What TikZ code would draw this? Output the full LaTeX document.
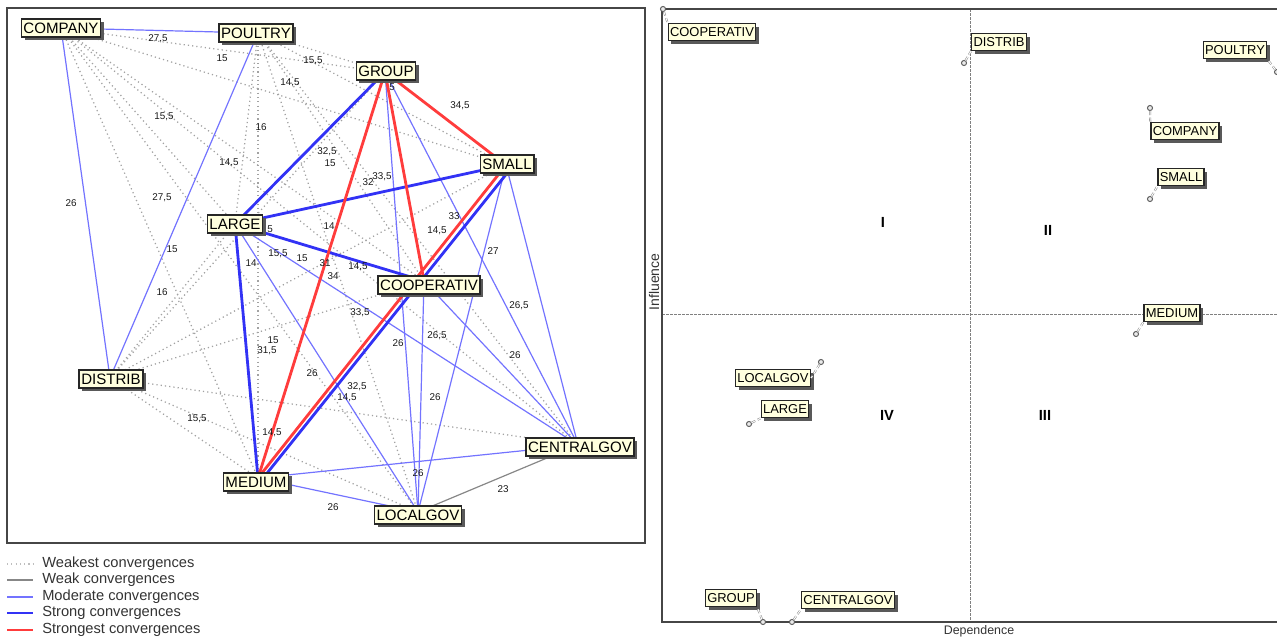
\documentclass[tikz,border=0pt]{standalone}
\usepackage{fontspec}
\setmainfont{Liberation Sans}
\usetikzlibrary{shadows,calc}
\definecolor{thinblue}{RGB}{115,115,255}
\definecolor{thickblue}{RGB}{50,50,245}
\definecolor{strred}{RGB}{255,60,60}
\definecolor{weakgray}{RGB}{135,135,135}
\definecolor{dotgray}{RGB}{162,162,162}
\definecolor{lblfill}{RGB}{255,255,222}
\definecolor{framegray}{RGB}{70,70,70}
\begin{document}
\begin{tikzpicture}[x=0.75pt,y=-0.75pt,
  actor/.style={draw=black!85,line width=1pt,fill=lblfill,
    font=\fontsize{11.3}{12}\selectfont,inner xsep=1.6pt,inner ysep=0pt,
    text height=8.2pt,text depth=0pt,minimum height=13.5pt,
    drop shadow={shadow xshift=2.4pt,shadow yshift=-2.4pt,fill=black!65,opacity=1}},
  actorR/.style={actor,font=\fontsize{9.7}{11}\selectfont,text height=7pt,minimum height=13pt,inner xsep=1.4pt},
  dotE/.style={dotgray,line width=0.95pt,dash pattern=on 0.9pt off 2.3pt},
  weakE/.style={weakgray,line width=0.9pt},
  modE/.style={thinblue,line width=0.9pt},
  strongE/.style={thickblue,line width=2.1pt},
  strongestE/.style={strred,line width=2.1pt},
  val/.style={font=\fontsize{7.4}{8}\selectfont,inner sep=0.5pt,text=black!90},
  legtext/.style={font=\fontsize{11}{12}\selectfont,text=black!80,anchor=west,inner sep=0pt},
  pt/.style={circle,draw=black!65,fill=black!8,line width=0.7pt,inner sep=0pt,minimum size=3.8pt},
  leader/.style={draw=black!45,line width=0.4pt,double=white,double distance=0.7pt,densely dashed},
  quad/.style={font=\fontsize{11}{12}\selectfont\bfseries},
  axisE/.style={draw=framegray,line width=1.1pt},
  midE/.style={draw=black!50,line width=0.6pt,dash pattern=on 2pt off 1pt}
]
\useasboundingbox (0,0) rectangle (1277,640);
% ---------------- left panel ----------------
\draw[framegray,line width=1.1pt] (7,8) rectangle (645,543);
\coordinate (cCOMPANY) at (61,28);
\coordinate (cPOULTRY) at (258,33);
\coordinate (cGROUP) at (385,72);
\coordinate (cSMALL) at (506,165);
\coordinate (cLARGE) at (235,224);
\coordinate (cCOOP) at (424,281);
\coordinate (cDISTRIB) at (110,378);
\coordinate (cMEDIUM) at (258,478);
\coordinate (cLOCALGOV) at (418,512);
\coordinate (cCENTRALGOV) at (578,445);
% weakest
\foreach \a in {cCOMPANY,cPOULTRY,cDISTRIB}
  \foreach \b in {cGROUP,cSMALL,cLARGE,cCOOP,cMEDIUM,cLOCALGOV,cCENTRALGOV}
    \draw[dotE] (\a) -- (\b);
% weak
\draw[weakE] (cCENTRALGOV) -- (cLOCALGOV);
% moderate
\draw[modE] (cCOMPANY) -- (cPOULTRY);
\draw[modE] (cCOMPANY) -- (cDISTRIB);
\draw[modE] (cPOULTRY) -- (cDISTRIB);
\draw[modE] (cGROUP) -- (cLOCALGOV);
\draw[modE] (cGROUP) -- (cCENTRALGOV);
\draw[modE] (cSMALL) -- (cLOCALGOV);
\draw[modE] (cSMALL) -- (cCENTRALGOV);
\draw[modE] (cLARGE) -- (cLOCALGOV);
\draw[modE] (cLARGE) -- (cCENTRALGOV);
\draw[modE] (cCOOP) -- (cLOCALGOV);
\draw[modE] (cCOOP) -- (cCENTRALGOV);
\draw[modE] (cMEDIUM) -- (cCENTRALGOV);
\draw[modE] (cMEDIUM) -- (cLOCALGOV);
% strong
\draw[strongE] (cGROUP) -- (cLARGE);
\draw[strongE] (cLARGE) -- (cSMALL);
\draw[strongE] (cLARGE) -- (cCOOP);
\draw[strongE] (cLARGE) -- (cMEDIUM);
\draw[strongE] ($(cSMALL)+(6,2)$) -- ($(cMEDIUM)+(6,-1)$);
% strongest
\draw[strongestE] (cGROUP) -- (cSMALL);
\draw[strongestE] (cGROUP) -- (cMEDIUM);
\draw[strongestE] (cGROUP) -- (cCOOP);
\draw[strongestE] (cSMALL) -- (cMEDIUM);
% values
\foreach \x/\y/\t [count=\i] in {
  158/39/{27,5}, 222/58/{15}, 313/61/{15,5}, 290/83/{14,5}, 164/117/{15,5},
  261/127/{16}, 229/163/{14,5}, 162/198/{27,5}, 71/203/{26}, 327/152/{32,5},
  330/163/{15}, 368/182/{32}, 382/177/{33,5}, 392/87/{5}, 460/106/{34,5},
  270/229/{5}, 329/226/{14}, 454/216/{33}, 437/231/{14,5}, 172/249/{15},
  162/292/{16}, 251/263/{14}, 278/254/{15,5}, 302/258/{15}, 325/263/{31},
  333/276/{34}, 358/267/{14,5}, 493/251/{27}, 519/306/{26,5}, 360/313/{33,5},
  437/336/{26,5}, 398/343/{26}, 273/340/{15}, 267/351/{31,5}, 515/355/{26},
  312/373/{26}, 357/387/{32,5}, 347/398/{14,5}, 435/397/{26}, 197/419/{15,5},
  272/433/{14,5}, 418/473/{26}, 503/489/{23}, 333/507/{26}}
  \node[val] (v\i) at (\x,\y) {\t};
% actors
\node[actor] (COMPANY) at (61,28) {COMPANY};
\node[actor] (POULTRY) at (256,33) {POULTRY};
\node[actor] (GROUP) at (386,71) {GROUP};
\node[actor] (SMALL) at (507,164) {SMALL};
\node[actor] (LARGE) at (235,224) {LARGE};
\node[actor] (COOPERATIV) at (429,285) {COOPERATIV};
\node[actor] (DISTRIB) at (111,379) {DISTRIB};
\node[actor] (CENTRALGOV) at (580,447) {CENTRALGOV};
\node[actor] (MEDIUM) at (256,482) {MEDIUM};
\node[actor] (LOCALGOV) at (418,515) {LOCALGOV};
% legend
\coordinate (g1a) at (7,564); \coordinate (g1b) at (33,564);
\coordinate (g2a) at (7,580); \coordinate (g2b) at (33,580);
\coordinate (g3a) at (7,597); \coordinate (g3b) at (33,597);
\coordinate (g4a) at (7,613); \coordinate (g4b) at (33,613);
\coordinate (g5a) at (7,630); \coordinate (g5b) at (33,630);
\draw[dotE,dotgray!70] (g1a) -- (g1b);
\draw[weakE] (g2a) -- (g2b);
\draw[modE] (g3a) -- (g3b);
\draw[strongE] (g4a) -- (g4b);
\draw[strongestE] (g5a) -- (g5b);
\node[legtext] (t1) at (42,564) {Weakest convergences};
\node[legtext] (t2) at (42,580) {Weak convergences};
\node[legtext] (t3) at (42,597) {Moderate convergences};
\node[legtext] (t4) at (42,613) {Strong convergences};
\node[legtext] (t5) at (42,630) {Strongest convergences};
% ---------------- right panel ----------------
\draw[midE] (970,9) -- (970,622);
\draw[midE] (662,314) -- (1277,314);
\draw[axisE] (662,9) -- (1277,9);
\draw[axisE] (662,9) -- (662,622) -- (1277,622);
\node[font=\fontsize{10.5}{11}\selectfont,text=black!80,rotate=90] (infl) at (654,282) {Influence};
\node[font=\fontsize{9.3}{10}\selectfont,text=black!80] (dep) at (979,631) {Dependence};
\node[quad] (q1) at (883,222) {I};
\node[quad] (q2) at (1048,230) {II};
\node[quad] (q3) at (1045,415) {III};
\node[quad] (q4) at (887,415) {IV};
% points
\node[pt] (pCOOP) at (663,9) {};
\node[pt] (pDISTRIB) at (964,63) {};
\node[pt] (pPOULTRY) at (1277,72) {};
\node[pt] (pCOMPANY) at (1150,108) {};
\node[pt] (pSMALL) at (1150,199) {};
\node[pt] (pMEDIUM) at (1136,334) {};
\node[pt] (pLOCALGOV) at (821,362) {};
\node[pt] (pLARGE) at (749,424) {};
\node[pt] (pGROUP) at (763,622) {};
\node[pt] (pCENTRALGOV) at (792,622) {};
% labels
\node[actorR] (rCOOP) at (712,32) {COOPERATIV};
\node[actorR] (rDISTRIB) at (999,42) {DISTRIB};
\node[actorR] (rPOULTRY) at (1235,50) {POULTRY};
\node[actorR] (rCOMPANY) at (1185,131) {COMPANY};
\node[actorR] (rSMALL) at (1181,177) {SMALL};
\node[actorR] (rMEDIUM) at (1172,313) {MEDIUM};
\node[actorR] (rLOCALGOV) at (773,378) {LOCALGOV};
\node[actorR] (rLARGE) at (785,409) {LARGE};
\node[actorR] (rGROUP) at (731,598) {GROUP};
\node[actorR] (rCENTRALGOV) at (848,600) {CENTRALGOV};
% leaders
\draw[leader] (pCOOP) -- (rCOOP.north west);
\draw[leader] (pDISTRIB) -- (rDISTRIB.south west);
\draw[leader] (pPOULTRY) -- (rPOULTRY.south east);
\draw[leader] (pCOMPANY) -- (rCOMPANY.north west);
\draw[leader] (pSMALL) -- (rSMALL.south west);
\draw[leader] (pMEDIUM) -- (rMEDIUM.south west);
\draw[leader] (pLOCALGOV) -- (rLOCALGOV.east);
\draw[leader] (pLARGE) -- (rLARGE.south west);
\draw[leader] (pGROUP) -- (rGROUP.south east);
\draw[leader] (pCENTRALGOV) -- (rCENTRALGOV.south west);
\end{tikzpicture}
\end{document}
